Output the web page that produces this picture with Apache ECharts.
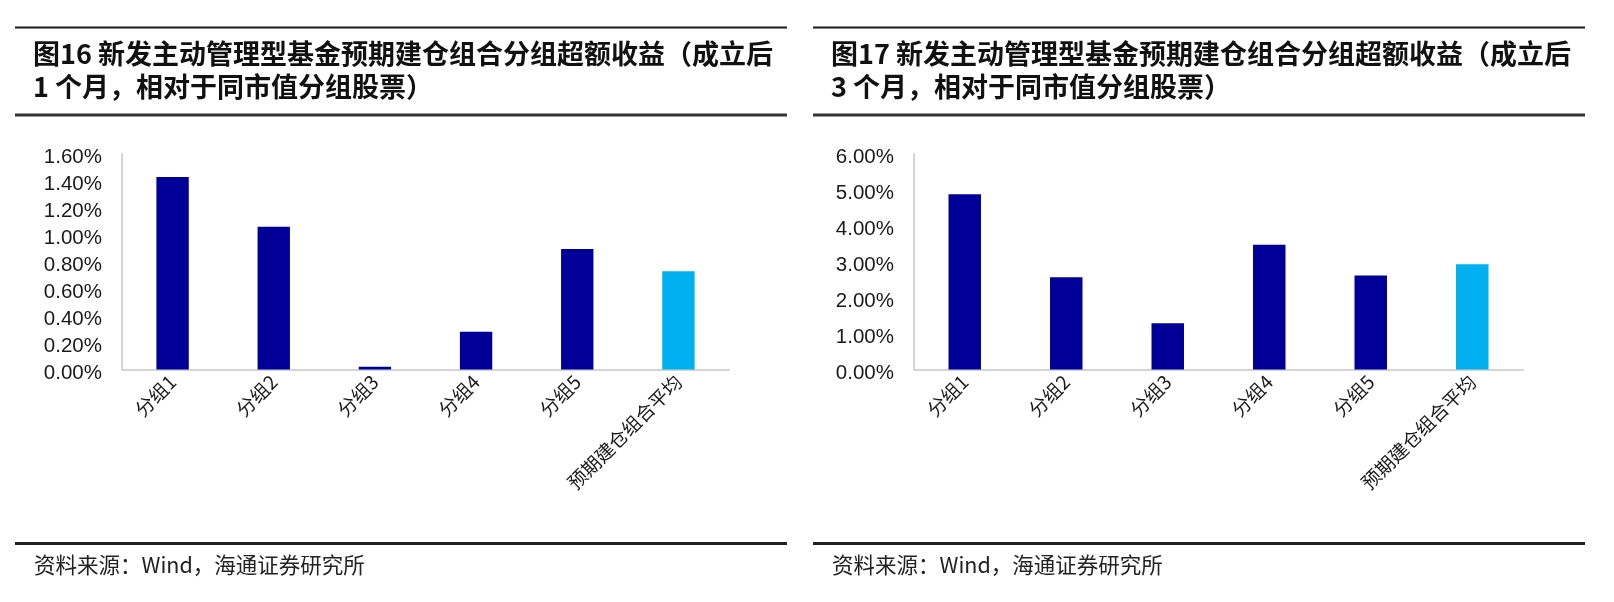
<!DOCTYPE html>
<html>
<head>
<meta charset="utf-8">
<script src="https://cdn.jsdelivr.net/npm/echarts@6/dist/echarts.min.js"></script>
<style>
html,body{margin:0;padding:0;background:#fff;}
#c{width:1614px;height:602px;}
</style>
</head>
<body>
<div id="c"></div>
<script>
// ---- data ----
var categories = ['分组1', '分组2', '分组3', '分组4', '分组5', '预期建仓组合平均'];
var excess1M = [1.43, 1.06, 0.02, 0.28, 0.895, 0.73];   // % , 成立后1个月
var excess3M = [4.88, 2.57, 1.29, 3.47, 2.62, 2.93];    // % , 成立后3个月
var avgIndex = 5;
var yMax1 = 1.6, yStep1 = 0.2;
var yMax3 = 6, yStep3 = 1;
var title1 = ['图16 新发主动管理型基金预期建仓组合分组超额收益（成立后', '1 个月，相对于同市值分组股票）'];
var title2 = ['图17 新发主动管理型基金预期建仓组合分组超额收益（成立后', '3 个月，相对于同市值分组股票）'];
var sourceText = '资料来源：Wind，海通证券研究所';

// ---- styles ----
var DARK = '#000099', LIGHT = '#00B0F0';
var CJK = '"Noto Sans CJK SC","Liberation Sans",sans-serif';
var NUM = '"Liberation Sans",Arial,sans-serif';

function colored(arr) {
  return arr.map(function (v, i) {
    return { value: v, itemStyle: { color: i === avgIndex ? LIGHT : DARK } };
  });
}
function xAxis(gi) {
  return {
    type: 'category', gridIndex: gi, data: categories,
    axisLine: { lineStyle: { color: '#d4d4d4', width: 2 } },
    axisTick: { show: false },
    axisLabel: { rotate: 45, interval: 0, margin: 9, fontSize: 19, color: '#1a1a1a', fontFamily: CJK }
  };
}
function yAxis(gi, max, step) {
  return {
    type: 'value', gridIndex: gi, min: 0, max: max, interval: step,
    axisLine: { show: true, lineStyle: { color: '#d4d4d4', width: 2 } },
    axisTick: { show: false },
    splitLine: { show: false },
    axisLabel: { margin: 20, color: '#1a1a1a',
      formatter: function (v) { return '{v|' + v.toFixed(2) + '%}'; },
      rich: { v: { fontSize: 20.5, fontFamily: NUM, color: '#1a1a1a', padding: [7, 0, 0, 0] } } }
  };
}
function panel(ox, t) {
  return [
    { type: 'line', shape: { x1: 15 + ox, y1: 27.5, x2: 787 + ox, y2: 27.5 }, style: { stroke: '#1a1a1a', lineWidth: 2 } },
    { type: 'text', left: 33 + ox, top: 40, style: { text: t[0], font: 'bold 27px ' + CJK, fill: '#111' } },
    { type: 'text', left: 33 + ox, top: 73, style: { text: t[1], font: 'bold 27px ' + CJK, fill: '#111' } },
    { type: 'line', shape: { x1: 15 + ox, y1: 115, x2: 787 + ox, y2: 115 }, style: { stroke: '#333', lineWidth: 3 } },
    { type: 'line', shape: { x1: 15 + ox, y1: 543.5, x2: 787 + ox, y2: 543.5 }, style: { stroke: '#222', lineWidth: 3 } },
    { type: 'text', left: 34 + ox, top: 554, style: { text: sourceText, font: '21.5px ' + CJK, fill: '#222' } }
  ];
}

var chart = echarts.init(document.getElementById('c'), null, { renderer: 'canvas' });
chart.setOption({
  animation: false,
  backgroundColor: '#fff',
  grid: [
    { left: 122, top: 154, width: 607, height: 215.5 },
    { left: 914, top: 154, width: 609, height: 215.5 }
  ],
  xAxis: [xAxis(0), xAxis(1)],
  yAxis: [yAxis(0, yMax1, yStep1), yAxis(1, yMax3, yStep3)],
  series: [
    { type: 'bar', xAxisIndex: 0, yAxisIndex: 0, barWidth: '32%', data: colored(excess1M) },
    { type: 'bar', xAxisIndex: 1, yAxisIndex: 1, barWidth: '32%', data: colored(excess3M) }
  ],
  graphic: panel(0, title1).concat(panel(798, title2))
});
</script>
</body>
</html>
